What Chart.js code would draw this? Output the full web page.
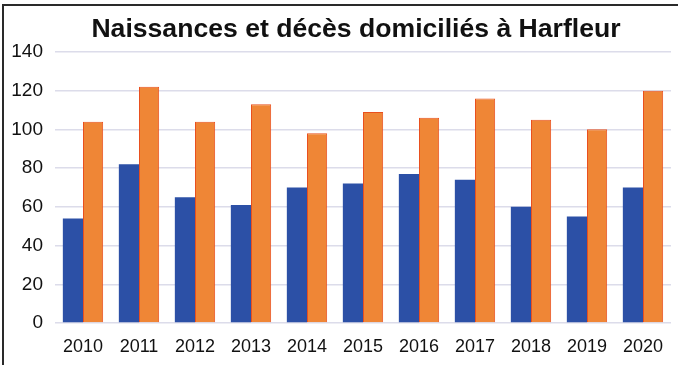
<!DOCTYPE html>
<html>
<head>
<meta charset="utf-8">
<script src="https://cdn.jsdelivr.net/npm/chart.js@4.4.1/dist/chart.umd.min.js"></script>
<style>
  body { margin: 0; background: #fff; }
  #frame {
    position: absolute; left: 2px; top: 4px;
    width: 674px; height: 359px;
    border-top: 2px solid #2a2a2a; border-left: 2px solid #2a2a2a;
  }
  #chart { display: block; }
</style>
</head>
<body>
<div id="frame"><canvas id="chart" width="674" height="359"></canvas></div>
<script>
  const years = ["2010", "2011", "2012", "2013", "2014", "2015", "2016", "2017", "2018", "2019", "2020"];
  const naissances = [54, 82, 65, 61, 70, 72, 77, 74, 60, 55, 70];
  const deces = [104, 122, 104, 113, 98, 109, 106, 116, 105, 100, 120];
  const yTicks = [0, 20, 40, 60, 80, 100, 120, 140];

  const font = "'Liberation Sans', Arial, sans-serif";

  // nudge the title a bit to the left, like in the scan
  const shiftTitle = {
    id: "shiftTitle",
    afterLayout(chart) {
      const t = chart.titleBlock;
      if (t) { t.left -= 7; t.right -= 7; }
    }
  };

  new Chart(document.getElementById("chart").getContext("2d"), {
    type: "bar",
    data: {
      labels: years,
      datasets: [
        {
          label: "Naissances",
          data: naissances,
          backgroundColor: "#2c50a6",
          borderWidth: 0
        },
        {
          label: "Décès",
          data: deces,
          backgroundColor: "#ef8636",
          borderColor: "#e9501e",
          borderWidth: 1
        }
      ]
    },
    options: {
      responsive: false,
      animation: false,
      layout: { padding: { left: 0, right: 7, top: 0, bottom: 0 } },
      datasets: { bar: { barPercentage: 1, categoryPercentage: 0.72 } },
      plugins: {
        legend: { display: false },
        tooltip: { enabled: false },
        title: {
          display: true,
          fullSize: false,
          text: "Naissances et décès domiciliés à Harfleur",
          color: "#111",
          font: { family: font, size: 26.6, weight: "bold" },
          padding: { top: 8, bottom: 6 }
        }
      },
      scales: {
        x: {
          afterFit: s => { s.height = 42; },
          grid: { display: false, drawTicks: false },
          border: { display: false },
          ticks: { color: "#111", font: { family: font, size: 18 }, padding: 13 }
        },
        y: {
          min: 0,
          max: 140,
          afterBuildTicks: s => { s.ticks = yTicks.map(v => ({ value: v })); },
          afterFit: s => { s.width = 51; },
          grid: { color: "#dcdcea", lineWidth: 1.5, drawTicks: false },
          border: { display: false },
          ticks: { color: "#111", font: { family: font, size: 19 }, padding: 12 }
        }
      }
    },
    plugins: [shiftTitle]
  });
</script>
</body>
</html>
